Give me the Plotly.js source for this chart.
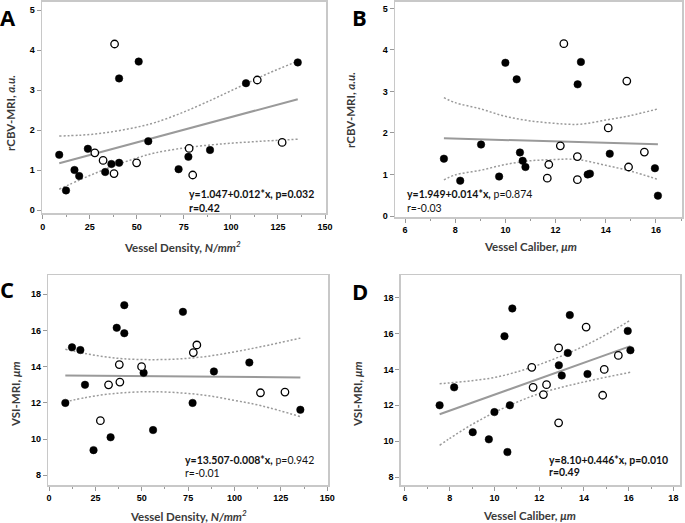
<!DOCTYPE html>
<html>
<head>
<meta charset="utf-8">
<script src="https://cdn.plot.ly/plotly-3.0.1.min.js"></script>
<style>html,body{margin:0;padding:0;background:#fff;}#chart{width:685px;height:523px;}</style>
</head>
<body>
<div id="chart"></div>
<script>
// ---- subject data: filled circles ----
const filledDensity = [8.8, 12.4, 16.9, 19.4, 24.0, 33.2, 36.5, 40.6, 40.6, 51.0, 56.1, 72.2, 77.4, 88.9, 108.0, 135.5];
const filledCaliber = [7.55, 16.08, 13.28, 8.2, 10.58, 9.75, 15.96, 10.8, 10.45, 13.01, 9.03, 13.37, 10.69, 14.16, 12.88, 10.0];
const filledRcbv    = [1.38, 0.49, 1.00, 0.85, 1.53, 0.95, 1.15, 1.18, 3.29, 3.71, 1.72, 1.02, 1.33, 1.50, 3.17, 3.69];
const filledVsi     = [12.0, 15.07, 14.92, 13.0, 9.39, 10.1, 16.15, 17.4, 15.85, 13.66, 10.5, 17.03, 12.0, 13.74, 14.23, 11.62];
// ---- subject data: open circles ----
const openDensity = [27.7, 32.1, 38.2, 37.9, 49.9, 77.8, 79.7, 114.0, 127.2, null];
const openCaliber = [12.87, 11.73, 12.33, 11.67, 14.91, 15.54, 12.87, 14.84, 12.19, 14.1];
const openRcbv    = [1.43, 1.24, 4.15, 0.91, 1.18, 1.54, 0.875, 3.25, 1.69, 2.12];
const openVsi     = [11.02, 13.0, 13.15, 14.12, 14.0, 14.78, 15.2, 12.56, 12.6, 16.36];
// ---- fitted lines and confidence curves ----
const fitAx = [8.8, 135.5], fitAy = [1.17, 2.77];
const ciAx = [8.8, 20, 30, 40, 50, 60, 75, 90, 100, 110, 120, 135.5];
const ciAupper = [1.85, 1.87, 1.91, 1.98, 2.07, 2.19, 2.45, 2.76, 2.98, 3.2, 3.42, 3.72];
const ciAlower = [0.52, 0.76, 0.96, 1.14, 1.30, 1.43, 1.55, 1.63, 1.67, 1.70, 1.73, 1.77];
const fitBx = [7.55, 16.08], fitBy = [1.87, 1.73];
const ciBx = [7.55, 8, 9, 10, 11, 12, 12.5, 13, 14, 15, 16.08];
const ciBupper = [2.85, 2.73, 2.58, 2.40, 2.29, 2.23, 2.21, 2.21, 2.31, 2.42, 2.58];
const ciBlower = [0.87, 0.99, 1.10, 1.24, 1.33, 1.36, 1.37, 1.35, 1.22, 1.08, 0.88];
const fitCx = [8.8, 135.5], fitCy = [13.52, 13.41];
const ciCx = [8.8, 20, 30, 40, 55, 70, 85, 100, 115, 135.5];
const ciCupper = [14.96, 14.72, 14.55, 14.44, 14.39, 14.43, 14.57, 14.82, 15.12, 15.58];
const ciClower = [12.06, 12.3, 12.46, 12.56, 12.62, 12.56, 12.41, 12.14, 11.83, 11.24];
const fitDx = [7.55, 16.08], fitDy = [11.5, 15.3];
const ciDx = [7.55, 8, 9, 10, 11, 12, 13, 14, 15, 16.08];
const ciDupper = [13.2, 13.25, 13.37, 13.55, 13.86, 14.27, 14.75, 15.3, 15.95, 16.75];
const ciDlower = [9.77, 10.15, 10.93, 11.6, 12.17, 12.65, 13.0, 13.3, 13.57, 13.84];
// ---- tick labels ----
const densityTicks = [0, 25, 50, 75, 100, 125, 150];
const caliberTicksB = [6, 8, 10, 12, 14, 16];
const caliberTicksD = [6, 8, 10, 12, 14, 16, 18];
const rcbvTicks = [0, 1, 2, 3, 4, 5];
const vsiTicks = [8, 10, 12, 14, 16, 18];

const W = 685, H = 523;
const lineGray = '#9a9a9a';
const panels = [
  {xa:'x',  ya:'y',  fx:fitAx, fy:fitAy, cx:ciAx, cu:ciAupper, cl:ciAlower, px:filledDensity, py:filledRcbv, ox:openDensity, oy:openRcbv},
  {xa:'x2', ya:'y2', fx:fitBx, fy:fitBy, cx:ciBx, cu:ciBupper, cl:ciBlower, px:filledCaliber, py:filledRcbv, ox:openCaliber, oy:openRcbv},
  {xa:'x3', ya:'y3', fx:fitCx, fy:fitCy, cx:ciCx, cu:ciCupper, cl:ciClower, px:filledDensity, py:filledVsi, ox:openDensity, oy:openVsi},
  {xa:'x4', ya:'y4', fx:fitDx, fy:fitDy, cx:ciDx, cu:ciDupper, cl:ciDlower, px:filledCaliber, py:filledVsi, ox:openCaliber, oy:openVsi}
];
const traces = [];
panels.forEach(p => {
  traces.push({x:p.cx, y:p.cu, xaxis:p.xa, yaxis:p.ya, mode:'lines', line:{color:lineGray, width:1.5, dash:'2px,2px', shape:'spline'}, hoverinfo:'skip'});
  traces.push({x:p.cx, y:p.cl, xaxis:p.xa, yaxis:p.ya, mode:'lines', line:{color:lineGray, width:1.5, dash:'2px,2px', shape:'spline'}, hoverinfo:'skip'});
  traces.push({x:p.fx, y:p.fy, xaxis:p.xa, yaxis:p.ya, mode:'lines', line:{color:lineGray, width:2}, hoverinfo:'skip'});
  traces.push({x:p.px, y:p.py, xaxis:p.xa, yaxis:p.ya, mode:'markers', marker:{color:'#000', size:7.5, line:{color:'#000', width:0.5}}});
  traces.push({x:p.ox, y:p.oy, xaxis:p.xa, yaxis:p.ya, mode:'markers', marker:{color:'#fff', size:7.5, line:{color:'#000', width:1.3}}});
});

const tickFont = {family:'Liberation Sans, Arial, sans-serif', size:9, color:'#000'};
function bold(ticks) { return ticks.map(t => '<b>' + t + '</b>'); }
function xax(px0, px1, r0, r1, ticks, minorStep, anchor) {
  return {domain:[px0/W, px1/W], range:[r0, r1], tickmode:'array', tickvals:ticks, ticktext:bold(ticks),
    ticks:'outside', ticklen:4, tickcolor:'#999', tickwidth:1, showline:true, mirror:true, linecolor:'#c8c8c8', linewidth:1.5,
    showgrid:false, zeroline:false, tickfont:tickFont, anchor:anchor,
    minor:{dtick:minorStep, ticks:'outside', ticklen:2, tickcolor:'#999', showgrid:false}};
}
function yax(top, bot, r0, r1, ticks, anchor) {
  return {domain:[(H-bot)/H, (H-top)/H], range:[r0, r1], tickmode:'array', tickvals:ticks, ticktext:bold(ticks),
    ticks:'outside', ticklen:4, tickcolor:'#999', tickwidth:1, showline:true, mirror:true, linecolor:'#c8c8c8', linewidth:1.5,
    showgrid:false, zeroline:false, tickfont:tickFont, anchor:anchor};
}
function ann(text, px, py, opts) {
  return Object.assign({text:text, x:px/W, y:1-py/H, xref:'paper', yref:'paper', showarrow:false, xanchor:'left', yanchor:'middle',
    font:{family:'Lato, sans-serif', size:10.5, color:'#111'}}, opts||{});
}
const titleFont = {family:'Lato, sans-serif', size:11.5, color:'#3a3a3a', weight:700};
const letterFont = {family:'Open Sans, sans-serif', size:22, color:'#000', weight:700};
const layout = {
  width:W, height:H, margin:{l:0, r:0, t:0, b:0}, paper_bgcolor:'#fff', plot_bgcolor:'#fff', showlegend:false,
  xaxis:  xax(42.1, 326, -0.3, 150.5, densityTicks, 12.5, 'y'),
  yaxis:  yax(1.6, 213.2, -0.08, 5.21, rcbvTicks, 'x'),
  xaxis2: xax(395, 682, 5.6, 17.04, caliberTicksB, 1, 'y2'),
  yaxis2: yax(1.7, 217, -0.024, 5.16, rcbvTicks, 'x2'),
  xaxis3: xax(48.3, 328.3, -0.38, 150.57, densityTicks, 12.5, 'y3'),
  yaxis3: yax(275.3, 485, 7.464, 19.05, vsiTicks, 'x3'),
  xaxis4: xax(400.7, 680.3, 5.81, 18.31, caliberTicksD, 1, 'y4'),
  yaxis4: yax(275.3, 485, 7.554, 19.25, vsiTicks, 'x4'),
  annotations: [
    ann('<b>y=1.047+0.012*x, p=0.032</b>', 187, 194),
    ann('<b>r=0.42</b>', 187, 207.5),
    ann('<b>y=1.949+0.014*x,</b> p=0.874', 404.7, 194.3),
    ann('r=-0.03', 404.7, 208.3),
    ann('<b>y=13.507-0.008*x,</b> p=0.942', 183.3, 460.3),
    ann('r=-0.01', 183.3, 473),
    ann('<b>y=8.10+0.446*x, p=0.010</b>', 547, 459.7),
    ann('<b>r=0.49</b>', 547, 472),
    ann('Vessel Density, <i>N/mm<sup>2</sup></i>', 183, 246, {xanchor:'center', font:titleFont}),
    ann('Vessel Caliber, <i>μm</i>', 530, 246, {xanchor:'center', font:titleFont}),
    ann('Vessel Density, <i>N/mm<sup>2</sup></i>', 188, 515, {xanchor:'center', font:titleFont}),
    ann('Vessel Caliber, <i>μm</i>', 529, 515, {xanchor:'center', font:titleFont}),
    ann('rCBV-MRI, <i>a.u.</i>', 11, 113, {xanchor:'center', textangle:-90, font:titleFont}),
    ann('rCBV-MRI, <i>a.u.</i>', 350, 110, {xanchor:'center', textangle:-90, font:titleFont}),
    ann('VSI-MRI, <i>μm</i>', 15, 394, {xanchor:'center', textangle:-90, font:titleFont}),
    ann('VSI-MRI, <i>μm</i>', 357, 394, {xanchor:'center', textangle:-90, font:titleFont}),
    ann('A', 8, 0, {xanchor:'center', yanchor:'top', font:letterFont}),
    ann('B', 359, 0, {xanchor:'center', yanchor:'top', font:letterFont}),
    ann('C', 7, 272, {xanchor:'center', yanchor:'top', font:letterFont}),
    ann('D', 360, 274, {xanchor:'center', yanchor:'top', font:letterFont})
  ]
};
Plotly.newPlot('chart', traces, layout, {staticPlot:true, displayModeBar:false});
</script>
</body>
</html>
